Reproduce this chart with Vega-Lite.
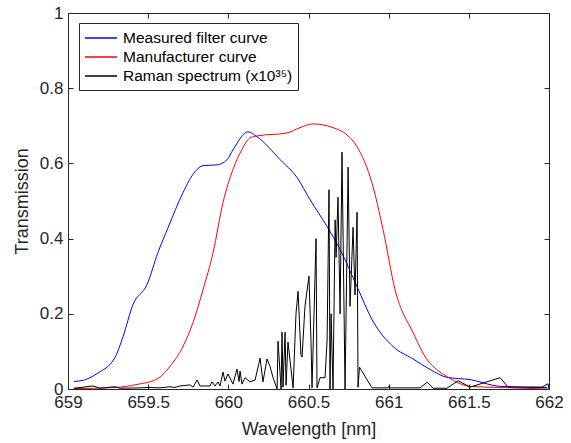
{
  "$schema": "https://vega.github.io/schema/vega-lite/v6.json",
  "width": 481,
  "height": 376,
  "autosize": {"type": "none"},
  "padding": {"left": 68, "top": 13, "right": 22, "bottom": 54},
  "background": "white",
  "config": {
    "view": {"stroke": null},
    "font": "Liberation Sans",
    "axis": {
      "grid": false,
      "domainColor": "#262626",
      "tickColor": "#262626",
      "labelColor": "#262626",
      "titleColor": "#262626",
      "labelFont": "Liberation Sans",
      "titleFont": "Liberation Sans",
      "labelFontSize": 17,
      "titleFontSize": 18,
      "titleFontWeight": "normal",
      "tickSize": -5,
      "domainWidth": 1
    }
  },
  "data": {
    "values": [
      {"series": "Measured filter curve", "wavelength": 659.037, "transmission": 0.020},
      {"series": "Measured filter curve", "wavelength": 659.094, "transmission": 0.023},
      {"series": "Measured filter curve", "wavelength": 659.181, "transmission": 0.041},
      {"series": "Measured filter curve", "wavelength": 659.293, "transmission": 0.084},
      {"series": "Measured filter curve", "wavelength": 659.343, "transmission": 0.139},
      {"series": "Measured filter curve", "wavelength": 659.405, "transmission": 0.224},
      {"series": "Measured filter curve", "wavelength": 659.493, "transmission": 0.278},
      {"series": "Measured filter curve", "wavelength": 659.561, "transmission": 0.363},
      {"series": "Measured filter curve", "wavelength": 659.624, "transmission": 0.429},
      {"series": "Measured filter curve", "wavelength": 659.717, "transmission": 0.522},
      {"series": "Measured filter curve", "wavelength": 659.792, "transmission": 0.578},
      {"series": "Measured filter curve", "wavelength": 659.842, "transmission": 0.594},
      {"series": "Measured filter curve", "wavelength": 659.929, "transmission": 0.596},
      {"series": "Measured filter curve", "wavelength": 659.992, "transmission": 0.610},
      {"series": "Measured filter curve", "wavelength": 660.029, "transmission": 0.636},
      {"series": "Measured filter curve", "wavelength": 660.123, "transmission": 0.684},
      {"series": "Measured filter curve", "wavelength": 660.179, "transmission": 0.671},
      {"series": "Measured filter curve", "wavelength": 660.323, "transmission": 0.610},
      {"series": "Measured filter curve", "wavelength": 660.429, "transmission": 0.562},
      {"series": "Measured filter curve", "wavelength": 660.510, "transmission": 0.503},
      {"series": "Measured filter curve", "wavelength": 660.616, "transmission": 0.432},
      {"series": "Measured filter curve", "wavelength": 660.697, "transmission": 0.371},
      {"series": "Measured filter curve", "wavelength": 660.803, "transmission": 0.272},
      {"series": "Measured filter curve", "wavelength": 660.896, "transmission": 0.185},
      {"series": "Measured filter curve", "wavelength": 661.027, "transmission": 0.113},
      {"series": "Measured filter curve", "wavelength": 661.152, "transmission": 0.080},
      {"series": "Measured filter curve", "wavelength": 661.258, "transmission": 0.052},
      {"series": "Measured filter curve", "wavelength": 661.364, "transmission": 0.031},
      {"series": "Measured filter curve", "wavelength": 661.508, "transmission": 0.025},
      {"series": "Measured filter curve", "wavelength": 661.695, "transmission": 0.007},
      {"series": "Measured filter curve", "wavelength": 661.988, "transmission": 0.004},

      {"series": "Manufacturer curve", "wavelength": 659.037, "transmission": 0.001},
      {"series": "Manufacturer curve", "wavelength": 659.293, "transmission": 0.004},
      {"series": "Manufacturer curve", "wavelength": 659.430, "transmission": 0.012},
      {"series": "Manufacturer curve", "wavelength": 659.561, "transmission": 0.028},
      {"series": "Manufacturer curve", "wavelength": 659.636, "transmission": 0.060},
      {"series": "Manufacturer curve", "wavelength": 659.717, "transmission": 0.113},
      {"series": "Manufacturer curve", "wavelength": 659.780, "transmission": 0.177},
      {"series": "Manufacturer curve", "wavelength": 659.842, "transmission": 0.264},
      {"series": "Manufacturer curve", "wavelength": 659.905, "transmission": 0.363},
      {"series": "Manufacturer curve", "wavelength": 659.967, "transmission": 0.496},
      {"series": "Manufacturer curve", "wavelength": 660.029, "transmission": 0.584},
      {"series": "Manufacturer curve", "wavelength": 660.085, "transmission": 0.637},
      {"series": "Manufacturer curve", "wavelength": 660.135, "transmission": 0.668},
      {"series": "Manufacturer curve", "wavelength": 660.179, "transmission": 0.673},
      {"series": "Manufacturer curve", "wavelength": 660.366, "transmission": 0.681},
      {"series": "Manufacturer curve", "wavelength": 660.447, "transmission": 0.695},
      {"series": "Manufacturer curve", "wavelength": 660.528, "transmission": 0.705},
      {"series": "Manufacturer curve", "wavelength": 660.653, "transmission": 0.695},
      {"series": "Manufacturer curve", "wavelength": 660.740, "transmission": 0.676},
      {"series": "Manufacturer curve", "wavelength": 660.803, "transmission": 0.644},
      {"series": "Manufacturer curve", "wavelength": 660.896, "transmission": 0.548},
      {"series": "Manufacturer curve", "wavelength": 660.965, "transmission": 0.424},
      {"series": "Manufacturer curve", "wavelength": 661.040, "transmission": 0.264},
      {"series": "Manufacturer curve", "wavelength": 661.152, "transmission": 0.150},
      {"series": "Manufacturer curve", "wavelength": 661.240, "transmission": 0.078},
      {"series": "Manufacturer curve", "wavelength": 661.277, "transmission": 0.060},
      {"series": "Manufacturer curve", "wavelength": 661.364, "transmission": 0.033},
      {"series": "Manufacturer curve", "wavelength": 661.508, "transmission": 0.007},
      {"series": "Manufacturer curve", "wavelength": 661.695, "transmission": 0.004},
      {"series": "Manufacturer curve", "wavelength": 661.994, "transmission": 0.000},

      {"series": "Raman spectrum (x10³⁵)", "wavelength": 659.037, "transmission": 0.002},
      {"series": "Raman spectrum (x10³⁵)", "wavelength": 659.156, "transmission": 0.008},
      {"series": "Raman spectrum (x10³⁵)", "wavelength": 659.200, "transmission": 0.002},
      {"series": "Raman spectrum (x10³⁵)", "wavelength": 659.293, "transmission": 0.006},
      {"series": "Raman spectrum (x10³⁵)", "wavelength": 659.324, "transmission": 0.002},
      {"series": "Raman spectrum (x10³⁵)", "wavelength": 659.449, "transmission": 0.003},
      {"series": "Raman spectrum (x10³⁵)", "wavelength": 659.512, "transmission": 0.004},
      {"series": "Raman spectrum (x10³⁵)", "wavelength": 659.574, "transmission": 0.003},
      {"series": "Raman spectrum (x10³⁵)", "wavelength": 659.636, "transmission": 0.006},
      {"series": "Raman spectrum (x10³⁵)", "wavelength": 659.667, "transmission": 0.004},
      {"series": "Raman spectrum (x10³⁵)", "wavelength": 659.699, "transmission": 0.008},
      {"series": "Raman spectrum (x10³⁵)", "wavelength": 659.761, "transmission": 0.011},
      {"series": "Raman spectrum (x10³⁵)", "wavelength": 659.780, "transmission": 0.005},
      {"series": "Raman spectrum (x10³⁵)", "wavelength": 659.805, "transmission": 0.024},
      {"series": "Raman spectrum (x10³⁵)", "wavelength": 659.823, "transmission": 0.008},
      {"series": "Raman spectrum (x10³⁵)", "wavelength": 659.886, "transmission": 0.008},
      {"series": "Raman spectrum (x10³⁵)", "wavelength": 659.898, "transmission": 0.019},
      {"series": "Raman spectrum (x10³⁵)", "wavelength": 659.917, "transmission": 0.008},
      {"series": "Raman spectrum (x10³⁵)", "wavelength": 659.936, "transmission": 0.019},
      {"series": "Raman spectrum (x10³⁵)", "wavelength": 659.948, "transmission": 0.008},
      {"series": "Raman spectrum (x10³⁵)", "wavelength": 659.967, "transmission": 0.045},
      {"series": "Raman spectrum (x10³⁵)", "wavelength": 659.979, "transmission": 0.021},
      {"series": "Raman spectrum (x10³⁵)", "wavelength": 659.998, "transmission": 0.040},
      {"series": "Raman spectrum (x10³⁵)", "wavelength": 660.029, "transmission": 0.013},
      {"series": "Raman spectrum (x10³⁵)", "wavelength": 660.054, "transmission": 0.053},
      {"series": "Raman spectrum (x10³⁵)", "wavelength": 660.067, "transmission": 0.020},
      {"series": "Raman spectrum (x10³⁵)", "wavelength": 660.073, "transmission": 0.048},
      {"series": "Raman spectrum (x10³⁵)", "wavelength": 660.085, "transmission": 0.013},
      {"series": "Raman spectrum (x10³⁵)", "wavelength": 660.104, "transmission": 0.030},
      {"series": "Raman spectrum (x10³⁵)", "wavelength": 660.135, "transmission": 0.019},
      {"series": "Raman spectrum (x10³⁵)", "wavelength": 660.167, "transmission": 0.024},
      {"series": "Raman spectrum (x10³⁵)", "wavelength": 660.198, "transmission": 0.082},
      {"series": "Raman spectrum (x10³⁵)", "wavelength": 660.216, "transmission": 0.019},
      {"series": "Raman spectrum (x10³⁵)", "wavelength": 660.241, "transmission": 0.080},
      {"series": "Raman spectrum (x10³⁵)", "wavelength": 660.260, "transmission": 0.060},
      {"series": "Raman spectrum (x10³⁵)", "wavelength": 660.279, "transmission": 0.030},
      {"series": "Raman spectrum (x10³⁵)", "wavelength": 660.304, "transmission": 0.000},
      {"series": "Raman spectrum (x10³⁵)", "wavelength": 660.310, "transmission": 0.127},
      {"series": "Raman spectrum (x10³⁵)", "wavelength": 660.329, "transmission": 0.000},
      {"series": "Raman spectrum (x10³⁵)", "wavelength": 660.335, "transmission": 0.151},
      {"series": "Raman spectrum (x10³⁵)", "wavelength": 660.341, "transmission": 0.005},
      {"series": "Raman spectrum (x10³⁵)", "wavelength": 660.354, "transmission": 0.151},
      {"series": "Raman spectrum (x10³⁵)", "wavelength": 660.360, "transmission": 0.010},
      {"series": "Raman spectrum (x10³⁵)", "wavelength": 660.372, "transmission": 0.125},
      {"series": "Raman spectrum (x10³⁵)", "wavelength": 660.404, "transmission": 0.003},
      {"series": "Raman spectrum (x10³⁵)", "wavelength": 660.422, "transmission": 0.200},
      {"series": "Raman spectrum (x10³⁵)", "wavelength": 660.435, "transmission": 0.260},
      {"series": "Raman spectrum (x10³⁵)", "wavelength": 660.453, "transmission": 0.090},
      {"series": "Raman spectrum (x10³⁵)", "wavelength": 660.460, "transmission": 0.085},
      {"series": "Raman spectrum (x10³⁵)", "wavelength": 660.478, "transmission": 0.220},
      {"series": "Raman spectrum (x10³⁵)", "wavelength": 660.503, "transmission": 0.300},
      {"series": "Raman spectrum (x10³⁵)", "wavelength": 660.516, "transmission": 0.120},
      {"series": "Raman spectrum (x10³⁵)", "wavelength": 660.522, "transmission": 0.003},
      {"series": "Raman spectrum (x10³⁵)", "wavelength": 660.547, "transmission": 0.400},
      {"series": "Raman spectrum (x10³⁵)", "wavelength": 660.553, "transmission": 0.003},
      {"series": "Raman spectrum (x10³⁵)", "wavelength": 660.572, "transmission": 0.030},
      {"series": "Raman spectrum (x10³⁵)", "wavelength": 660.603, "transmission": 0.030},
      {"series": "Raman spectrum (x10³⁵)", "wavelength": 660.616, "transmission": 0.130},
      {"series": "Raman spectrum (x10³⁵)", "wavelength": 660.628, "transmission": 0.530},
      {"series": "Raman spectrum (x10³⁵)", "wavelength": 660.634, "transmission": 0.000},
      {"series": "Raman spectrum (x10³⁵)", "wavelength": 660.641, "transmission": 0.200},
      {"series": "Raman spectrum (x10³⁵)", "wavelength": 660.653, "transmission": 0.000},
      {"series": "Raman spectrum (x10³⁵)", "wavelength": 660.666, "transmission": 0.450},
      {"series": "Raman spectrum (x10³⁵)", "wavelength": 660.672, "transmission": 0.350},
      {"series": "Raman spectrum (x10³⁵)", "wavelength": 660.684, "transmission": 0.510},
      {"series": "Raman spectrum (x10³⁵)", "wavelength": 660.697, "transmission": 0.200},
      {"series": "Raman spectrum (x10³⁵)", "wavelength": 660.709, "transmission": 0.630},
      {"series": "Raman spectrum (x10³⁵)", "wavelength": 660.728, "transmission": 0.000},
      {"series": "Raman spectrum (x10³⁵)", "wavelength": 660.747, "transmission": 0.590},
      {"series": "Raman spectrum (x10³⁵)", "wavelength": 660.759, "transmission": 0.220},
      {"series": "Raman spectrum (x10³⁵)", "wavelength": 660.778, "transmission": 0.430},
      {"series": "Raman spectrum (x10³⁵)", "wavelength": 660.790, "transmission": 0.250},
      {"series": "Raman spectrum (x10³⁵)", "wavelength": 660.803, "transmission": 0.470},
      {"series": "Raman spectrum (x10³⁵)", "wavelength": 660.809, "transmission": 0.005},
      {"series": "Raman spectrum (x10³⁵)", "wavelength": 660.818, "transmission": 0.058},
      {"series": "Raman spectrum (x10³⁵)", "wavelength": 660.896, "transmission": 0.003},
      {"series": "Raman spectrum (x10³⁵)", "wavelength": 660.996, "transmission": 0.003},
      {"series": "Raman spectrum (x10³⁵)", "wavelength": 661.002, "transmission": 0.008},
      {"series": "Raman spectrum (x10³⁵)", "wavelength": 661.009, "transmission": 0.003},
      {"series": "Raman spectrum (x10³⁵)", "wavelength": 661.196, "transmission": 0.003},
      {"series": "Raman spectrum (x10³⁵)", "wavelength": 661.240, "transmission": 0.018},
      {"series": "Raman spectrum (x10³⁵)", "wavelength": 661.277, "transmission": 0.002},
      {"series": "Raman spectrum (x10³⁵)", "wavelength": 661.364, "transmission": 0.002},
      {"series": "Raman spectrum (x10³⁵)", "wavelength": 661.433, "transmission": 0.022},
      {"series": "Raman spectrum (x10³⁵)", "wavelength": 661.508, "transmission": 0.005},
      {"series": "Raman spectrum (x10³⁵)", "wavelength": 661.695, "transmission": 0.030},
      {"series": "Raman spectrum (x10³⁵)", "wavelength": 661.745, "transmission": 0.005},
      {"series": "Raman spectrum (x10³⁵)", "wavelength": 661.957, "transmission": 0.005},
      {"series": "Raman spectrum (x10³⁵)", "wavelength": 661.994, "transmission": 0.014},
      {"series": "Raman spectrum (x10³⁵)", "wavelength": 662.000, "transmission": 0.000}
    ]
  },
  "resolve": {"axis": {"x": "independent", "y": "independent"}},
  "layer": [
    {
      "transform": [{"filter": "datum.series !== 'Raman spectrum (x10³⁵)'"}],
      "mark": {"type": "line", "strokeWidth": 1, "clip": true, "interpolate": "monotone"},
      "encoding": {
        "x": {
          "field": "wavelength", "type": "quantitative",
          "scale": {"domain": [659, 662], "nice": false, "zero": false},
          "axis": {
            "orient": "bottom", "title": "Wavelength [nm]",
            "values": [659, 659.5, 660, 660.5, 661, 661.5, 662],
            "format": ".1~f", "labelPadding": 10, "titlePadding": 10,
            "labelFlush": false
          }
        },
        "y": {
          "field": "transmission", "type": "quantitative",
          "scale": {"domain": [0, 1], "nice": false},
          "axis": {
            "orient": "left", "title": "Transmission",
            "values": [0, 0.2, 0.4, 0.6, 0.8, 1],
            "format": ".1~f", "labelPadding": 10, "titlePadding": 8,
            "labelFlush": false
          }
        },
        "color": {
          "field": "series", "type": "nominal",
          "scale": {
            "domain": ["Measured filter curve", "Manufacturer curve", "Raman spectrum (x10³⁵)"],
            "range": ["#0000ff", "#ff0000", "#000000"]
          },
          "legend": {
            "title": null,
            "orient": "none",
            "legendX": 11,
            "legendY": 10,
            "padding": 5,
            "fillColor": "white",
            "strokeColor": "#262626",
            "symbolType": "M-1,0H2.556",
            "symbolSize": 324,
            "symbolStrokeWidth": 1.3,
            "labelOffset": 19,
            "labelFont": "Liberation Sans",
            "labelFontSize": 15.5,
            "labelColor": "#000000",
            "labelLimit": 400,
            "rowPadding": 0
          }
        }
      }
    },
    {
      "transform": [{"filter": "datum.series === 'Raman spectrum (x10³⁵)'"}],
      "mark": {"type": "line", "strokeWidth": 1, "clip": true},
      "encoding": {
        "x": {
          "field": "wavelength", "type": "quantitative",
          "scale": {"domain": [659, 662], "nice": false, "zero": false},
          "axis": null
        },
        "y": {
          "field": "transmission", "type": "quantitative",
          "scale": {"domain": [0, 1], "nice": false},
          "axis": null
        },
        "color": {
          "field": "series", "type": "nominal",
          "scale": {
            "domain": ["Measured filter curve", "Manufacturer curve", "Raman spectrum (x10³⁵)"],
            "range": ["#0000ff", "#ff0000", "#000000"]
          },
          "legend": null
        }
      }
    },
    {
      "mark": {"type": "line", "opacity": 0},
      "encoding": {
        "x": {
          "field": "wavelength", "type": "quantitative",
          "scale": {"domain": [659, 662], "nice": false, "zero": false},
          "axis": {
            "orient": "top", "title": null, "labels": false,
            "values": [659, 659.5, 660, 660.5, 661, 661.5, 662]
          }
        },
        "y": {
          "field": "transmission", "type": "quantitative",
          "scale": {"domain": [0, 1], "nice": false},
          "axis": {
            "orient": "right", "title": null, "labels": false,
            "values": [0, 0.2, 0.4, 0.6, 0.8, 1]
          }
        }
      }
    }
  ]
}
